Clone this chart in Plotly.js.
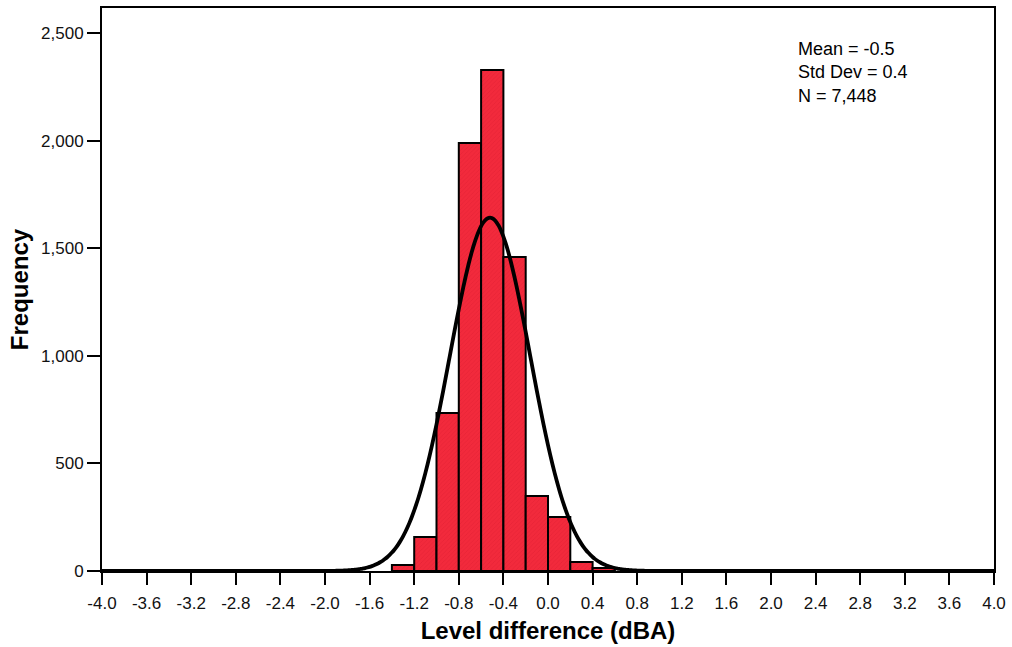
<!DOCTYPE html>
<html>
<head>
<meta charset="utf-8">
<script src="https://cdn.plot.ly/plotly-3.0.1.min.js"></script>
<style>html,body{margin:0;padding:0;background:#fff;}#chart{width:1012px;height:647px;}</style>
</head>
<body>
<div id="chart"></div>
<script>
// Histogram bins (left edges, dBA) and frequencies
var binStarts = [-1.4, -1.2, -1.0, -0.8, -0.6, -0.4, -0.2, 0.0, 0.2, 0.4];
var frequencies = [28, 158, 734, 1989, 2328, 1459, 349, 251, 42, 14];
var binWidth = 0.2;

// Fitted normal curve parameters (as drawn)
var curveMean = -0.52;
var curveSd = 0.362;
var curveN = 7448;

var xTickVals = [-4.0,-3.6,-3.2,-2.8,-2.4,-2.0,-1.6,-1.2,-0.8,-0.4,0.0,0.4,0.8,1.2,1.6,2.0,2.4,2.8,3.2,3.6,4.0];
var yTickVals = [0, 500, 1000, 1500, 2000, 2500];
var statsText = ["Mean = -0.5", "Std Dev = 0.4", "N = 7,448"];

var barCenters = binStarts.map(function(s){ return s + binWidth/2; });

var cx = [], cy = [];
for (var i = 0; i <= 400; i++) {
  var x = -4 + i * 0.02;
  cx.push(x);
  var z = (x - curveMean) / curveSd;
  cy.push(curveN * binWidth / (curveSd * Math.sqrt(2*Math.PI)) * Math.exp(-0.5*z*z));
}

var bars = {
  type: 'bar',
  x: barCenters,
  y: frequencies,
  width: binWidth,
  marker: {
    color: '#f02639',
    line: {color: '#000', width: 2},
    pattern: {shape: '/', bgcolor: '#f22a3c', fgcolor: '#d41a2c', size: 3, solidity: 0.2, fillmode: 'overlay'}
  },
  hoverinfo: 'x+y'
};
var curve = {
  type: 'scatter', mode: 'lines',
  x: cx, y: cy,
  line: {color: '#000', width: 3.8, shape: 'spline'},
  hoverinfo: 'skip'
};

var layout = {
  width: 1012, height: 647,
  margin: {l: 102, r: 18, t: 8, b: 76},
  paper_bgcolor: '#fff', plot_bgcolor: '#fff',
  showlegend: false,
  bargap: 0,
  font: {family: 'Arial, Liberation Sans, sans-serif', color: '#000'},
  xaxis: {
    range: [-4, 4],
    tickvals: xTickVals,
    ticktext: xTickVals.map(function(v){ return v.toFixed(1); }),
    ticks: 'outside', ticklen: 12, tickwidth: 2, tickcolor: '#000',
    ticklabelstandoff: 4,
    showline: true, linecolor: '#000', linewidth: 2, mirror: true,
    showgrid: false, zeroline: false,
    tickfont: {size: 17, color: '#111'},
    title: {text: '<b>Level difference (dBA)</b>', font: {size: 24}, standoff: 10}
  },
  yaxis: {
    range: [0, 2616],
    tickvals: yTickVals,
    ticktext: yTickVals.map(function(v){ return v.toLocaleString('en-US'); }),
    ticks: 'outside', ticklen: 13, tickwidth: 2, tickcolor: '#000',
    showline: true, linecolor: '#000', linewidth: 2, mirror: true,
    showgrid: false, zeroline: false,
    tickfont: {size: 17, color: '#111'},
    title: {text: '<b>Frequency</b>', font: {size: 24}, standoff: 6}
  },
  annotations: [{
    xref: 'paper', yref: 'paper', x: 0.778, y: 0.949,
    xanchor: 'left', yanchor: 'top', align: 'left',
    text: statsText.join('<br>'), showarrow: false,
    font: {size: 18, color: '#000'}
  }]
};

Plotly.newPlot('chart', [bars, curve], layout, {displayModeBar: false, staticPlot: true});
</script>
</body>
</html>
